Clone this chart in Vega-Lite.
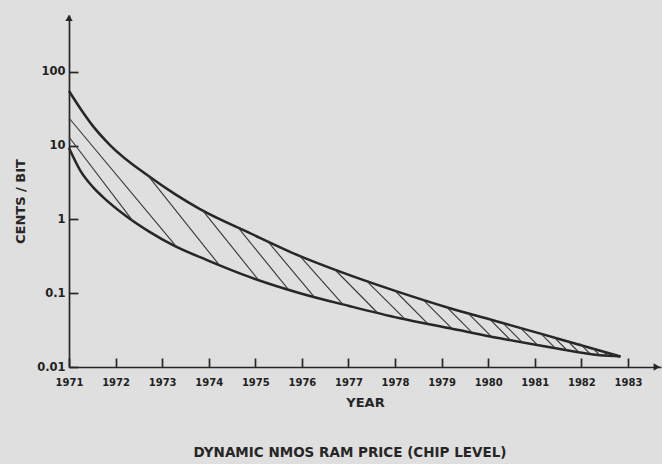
{
  "$schema": "https://vega.github.io/schema/vega-lite/v6.json",
  "width": 592,
  "height": 352,
  "autosize": {"type": "none"},
  "padding": {"left": 69, "top": 15, "right": 1, "bottom": 97},
  "background": "#dfdfdf",
  "title": {
    "text": "DYNAMIC NMOS RAM PRICE (CHIP LEVEL)",
    "orient": "bottom",
    "anchor": "middle",
    "offset": 37,
    "dx": -15,
    "font": "DejaVu Sans",
    "fontSize": 13.5,
    "fontWeight": "bold",
    "color": "#262626"
  },
  "config": {
    "view": {"stroke": null},
    "axis": {
      "grid": false,
      "domainColor": "#262626",
      "domainWidth": 1.7,
      "tickColor": "#262626",
      "tickWidth": 1.7,
      "labelFont": "DejaVu Sans",
      "labelFontWeight": "bold",
      "labelColor": "#222222",
      "labelFlush": false,
      "titleFont": "DejaVu Sans",
      "titleFontSize": 13,
      "titleFontWeight": "bold",
      "titleColor": "#262626"
    }
  },
  "datasets": {
    "curves": [
      {"curve": "upper", "year": 1971.0, "value": 55.1},
      {"curve": "upper", "year": 1971.236, "value": 32.4},
      {"curve": "upper", "year": 1971.515, "value": 18.4},
      {"curve": "upper", "year": 1971.88, "value": 10.2},
      {"curve": "upper", "year": 1972.739, "value": 3.75},
      {"curve": "upper", "year": 1973.276, "value": 2.2},
      {"curve": "upper", "year": 1973.812, "value": 1.38},
      {"curve": "upper", "year": 1974.886, "value": 0.652},
      {"curve": "upper", "year": 1975.96, "value": 0.318},
      {"curve": "upper", "year": 1976.818, "value": 0.196},
      {"curve": "upper", "year": 1977.956, "value": 0.11},
      {"curve": "upper", "year": 1979.18, "value": 0.0625},
      {"curve": "upper", "year": 1980.253, "value": 0.0405},
      {"curve": "upper", "year": 1981.541, "value": 0.0238},
      {"curve": "upper", "year": 1982.84, "value": 0.0139},
      {"curve": "lower", "year": 1971.0, "value": 9.27},
      {"curve": "lower", "year": 1971.236, "value": 4.67},
      {"curve": "lower", "year": 1971.515, "value": 2.74},
      {"curve": "lower", "year": 1971.73, "value": 2.01},
      {"curve": "lower", "year": 1972.202, "value": 1.14},
      {"curve": "lower", "year": 1972.739, "value": 0.673},
      {"curve": "lower", "year": 1973.233, "value": 0.448},
      {"curve": "lower", "year": 1973.963, "value": 0.281},
      {"curve": "lower", "year": 1974.886, "value": 0.165},
      {"curve": "lower", "year": 1975.96, "value": 0.1},
      {"curve": "lower", "year": 1977.033, "value": 0.0667},
      {"curve": "lower", "year": 1978.106, "value": 0.0458},
      {"curve": "lower", "year": 1979.18, "value": 0.0335},
      {"curve": "lower", "year": 1980.253, "value": 0.0245},
      {"curve": "lower", "year": 1981.326, "value": 0.0185},
      {"curve": "lower", "year": 1982.4, "value": 0.0144},
      {"curve": "lower", "year": 1982.84, "value": 0.0139}
    ],
    "hatch": [
      {"year1": 1971.0, "value1": 23.7, "year2": 1973.297, "value2": 0.435},
      {"year1": 1971.0, "value1": 13.1, "year2": 1972.374, "value2": 0.948},
      {"year1": 1972.696, "value1": 3.92, "year2": 1974.22, "value2": 0.244},
      {"year1": 1973.855, "value1": 1.36, "year2": 1975.073, "value2": 0.15},
      {"year1": 1974.628, "value1": 0.782, "year2": 1975.712, "value2": 0.112},
      {"year1": 1975.272, "value1": 0.5, "year2": 1976.26, "value2": 0.09},
      {"year1": 1975.959, "value1": 0.318, "year2": 1976.861, "value2": 0.0729},
      {"year1": 1976.711, "value1": 0.208, "year2": 1977.612, "value2": 0.0552},
      {"year1": 1977.398, "value1": 0.1445, "year2": 1978.213, "value2": 0.0444},
      {"year1": 1978.0, "value1": 0.108, "year2": 1978.707, "value2": 0.0385},
      {"year1": 1978.6, "value1": 0.0817, "year2": 1979.223, "value2": 0.0331},
      {"year1": 1979.115, "value1": 0.0644, "year2": 1979.662, "value2": 0.0291},
      {"year1": 1979.566, "value1": 0.0536, "year2": 1980.07, "value2": 0.02585},
      {"year1": 1980.038, "value1": 0.0441, "year2": 1980.483, "value2": 0.023},
      {"year1": 1980.317, "value1": 0.0394, "year2": 1980.731, "value2": 0.0216},
      {"year1": 1980.682, "value1": 0.0344, "year2": 1981.062, "value2": 0.0198},
      {"year1": 1981.111, "value1": 0.0292, "year2": 1981.44, "value2": 0.018},
      {"year1": 1981.391, "value1": 0.0262, "year2": 1981.687, "value2": 0.017},
      {"year1": 1981.691, "value1": 0.0229, "year2": 1981.936, "value2": 0.0161},
      {"year1": 1981.97, "value1": 0.0208, "year2": 1982.189, "value2": 0.0151},
      {"year1": 1982.249, "value1": 0.01795, "year2": 1982.4, "value2": 0.0144},
      {"year1": 1982.464, "value1": 0.0163, "year2": 1982.567, "value2": 0.01406},
      {"year1": 1982.657, "value1": 0.0151, "year2": 1982.721, "value2": 0.01374}
    ],
    "arrows": [
      {"year": 1971.0, "value": 540, "shape": "triangle-up"},
      {"year": 1983.62, "value": 0.01, "shape": "triangle-right"}
    ]
  },
  "layer": [
    {
      "data": {"name": "curves"},
      "mark": {"type": "line", "interpolate": "monotone", "stroke": "#262626", "strokeWidth": 2.5},
      "encoding": {
        "x": {
          "field": "year",
          "type": "quantitative",
          "title": "YEAR",
          "scale": {"domain": [1971, 1983.71], "nice": false, "zero": false},
          "axis": {
            "values": [1971, 1972, 1973, 1974, 1975, 1976, 1977, 1978, 1979, 1980, 1981, 1982, 1983],
            "format": "d",
            "tickSize": -9,
            "labelFontSize": 10,
            "labelPadding": 19,
            "titlePadding": 9
          }
        },
        "y": {
          "field": "value",
          "type": "quantitative",
          "title": "CENTS / BIT",
          "scale": {"type": "log", "domain": [0.01, 590], "nice": false},
          "axis": {
            "values": [0.01, 0.1, 1, 10, 100],
            "labelExpr": "'' + datum.value",
            "tickSize": -9,
            "labelFontSize": 11.5,
            "labelPadding": 13,
            "titleBaseline": "middle",
            "titleX": -49,
            "titleY": 186
          }
        },
        "detail": {"field": "curve"}
      }
    },
    {
      "data": {"name": "hatch"},
      "mark": {"type": "rule", "stroke": "#363636", "strokeWidth": 1.1},
      "encoding": {
        "x": {"field": "year1", "type": "quantitative", "title": "YEAR"},
        "x2": {"field": "year2"},
        "y": {"field": "value1", "type": "quantitative", "title": "CENTS / BIT"},
        "y2": {"field": "value2"}
      }
    },
    {
      "data": {"name": "arrows"},
      "mark": {"type": "point", "filled": true, "size": 55, "color": "#262626", "opacity": 1},
      "encoding": {
        "x": {"field": "year", "type": "quantitative", "title": "YEAR"},
        "y": {"field": "value", "type": "quantitative", "title": "CENTS / BIT"},
        "shape": {"field": "shape", "type": "nominal", "scale": null}
      }
    }
  ]
}
